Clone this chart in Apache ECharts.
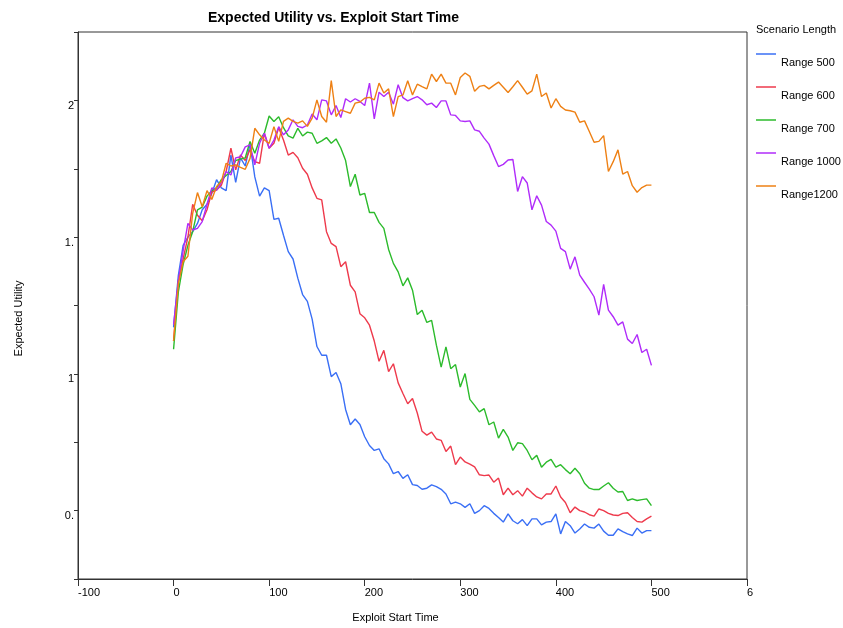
<!DOCTYPE html>
<html>
<head>
<meta charset="utf-8">
<script src="https://cdn.jsdelivr.net/npm/echarts@6/dist/echarts.min.js"></script>
<style>html,body{margin:0;padding:0;background:#fff;}#c{width:843px;height:628px;}</style>
</head>
<body>
<div id="c"></div>
<script>
var times = [0,5,10,15,20,25,30,35,40,45,50,55,60,65,70,75,80,85,90,95,
  100,105,110,115,120,125,130,135,140,145,150,155,160,165,170,175,180,185,190,195,
  200,205,210,215,220,225,230,235,240,245,250,255,260,265,270,275,280,285,290,295,
  300,305,310,315,320,325,330,335,340,345,350,355,360,365,370,375,380,385,390,395,
  400,405,410,415,420,425,430,435,440,445,450,455,460,465,470,475,480,485,490,495,500];

var range500 = [1.17,1.36,1.47,1.50,1.52,1.55,1.60,1.62,1.66,1.71,
  1.68,1.67,1.80,1.70,1.79,1.76,1.84,1.72,1.65,1.68,
  1.67,1.565,1.569,1.507,1.447,1.42,1.35,1.29,1.265,1.20,
  1.10,1.068,1.068,0.99,1.005,0.964,0.87,0.814,0.835,0.815,
  0.77,0.738,0.72,0.726,0.69,0.671,0.635,0.643,0.618,0.631,
  0.595,0.592,0.578,0.582,0.594,0.588,0.578,0.561,0.525,0.531,
  0.525,0.512,0.525,0.49,0.50,0.518,0.508,0.49,0.475,0.458,
  0.488,0.463,0.452,0.467,0.445,0.47,0.47,0.448,0.458,0.46,
  0.488,0.415,0.46,0.445,0.418,0.433,0.451,0.439,0.436,0.451,
  0.425,0.41,0.41,0.433,0.423,0.415,0.409,0.436,0.418,0.427,
  0.427];

var range600 = [1.12,1.34,1.42,1.50,1.62,1.58,1.56,1.60,1.665,1.672,
  1.69,1.74,1.825,1.746,1.80,1.78,1.82,1.776,1.77,1.88,
  1.825,1.843,1.90,1.855,1.80,1.81,1.79,1.752,1.73,1.68,
  1.642,1.636,1.52,1.477,1.465,1.392,1.41,1.324,1.30,1.22,
  1.205,1.178,1.12,1.046,1.086,1.008,1.037,0.967,0.928,0.891,
  0.91,0.857,0.79,0.776,0.787,0.762,0.757,0.716,0.736,0.668,
  0.696,0.678,0.67,0.66,0.631,0.628,0.63,0.604,0.619,0.558,
  0.582,0.558,0.573,0.553,0.582,0.565,0.55,0.543,0.561,0.561,
  0.59,0.55,0.53,0.492,0.513,0.50,0.495,0.485,0.48,0.506,
  0.50,0.49,0.484,0.482,0.49,0.492,0.475,0.46,0.458,0.47,
  0.48];

var range700 = [1.09,1.30,1.40,1.47,1.52,1.60,1.61,1.65,1.67,1.68,
  1.71,1.725,1.74,1.78,1.785,1.79,1.85,1.807,1.855,1.88,
  1.943,1.923,1.94,1.90,1.87,1.862,1.898,1.87,1.884,1.88,
  1.843,1.852,1.864,1.843,1.859,1.826,1.78,1.685,1.73,1.654,
  1.66,1.59,1.59,1.554,1.532,1.455,1.404,1.373,1.322,1.351,
  1.306,1.217,1.233,1.188,1.196,1.105,1.025,1.099,1.019,1.034,
  0.952,1.001,0.907,0.885,0.861,0.873,0.814,0.824,0.765,0.797,
  0.769,0.72,0.748,0.745,0.72,0.686,0.702,0.659,0.677,0.687,
  0.659,0.668,0.65,0.635,0.655,0.635,0.60,0.582,0.577,0.577,
  0.59,0.602,0.582,0.568,0.57,0.537,0.543,0.537,0.54,0.543,
  0.518];

var range1000 = [1.18,1.34,1.45,1.55,1.526,1.532,1.557,1.62,1.68,1.672,
  1.70,1.74,1.727,1.79,1.794,1.83,1.837,1.764,1.843,1.88,
  1.825,1.855,1.904,1.874,1.892,1.929,1.905,1.90,1.91,1.95,
  1.929,2.002,1.998,1.947,1.981,1.937,2.006,1.994,2.006,1.996,
  1.981,2.063,1.932,2.03,2.014,2.03,1.986,2.057,2.01,1.998,
  2.006,2.014,2.002,1.984,1.99,1.974,1.998,1.998,1.947,1.945,
  1.925,1.923,1.925,1.892,1.887,1.862,1.84,1.798,1.758,1.766,
  1.782,1.784,1.667,1.721,1.698,1.60,1.651,1.617,1.557,1.544,
  1.522,1.459,1.447,1.383,1.428,1.361,1.335,1.31,1.282,1.215,
  1.327,1.233,1.209,1.178,1.19,1.127,1.111,1.144,1.078,1.09,
  1.031];

var range1200 = [1.12,1.33,1.41,1.43,1.587,1.663,1.611,1.67,1.638,1.685,
  1.703,1.77,1.76,1.764,1.755,1.748,1.788,1.898,1.874,1.855,
  1.843,1.904,1.85,1.923,1.935,1.923,1.917,1.925,1.905,1.935,
  2.002,1.941,1.92,2.072,1.941,1.965,1.959,1.953,1.99,1.994,
  2.008,2.011,2.002,2.063,2.027,2.042,1.941,2.014,2.02,2.072,
  2.02,2.059,2.05,2.042,2.096,2.069,2.096,2.063,2.063,2.02,
  2.084,2.1,2.088,2.033,2.051,2.055,2.042,2.055,2.067,2.048,
  2.029,2.05,2.072,2.048,2.023,2.035,2.096,2.014,2.027,1.972,
  2.006,1.978,1.965,1.962,1.957,1.92,1.925,1.886,1.847,1.85,
  1.871,1.74,1.776,1.819,1.73,1.74,1.688,1.664,1.681,1.69,
  1.69];

var seriesNames = ['Range 500','Range 600','Range 700','Range 1000','Range1200'];
var seriesColors = ['#3a6ff5','#ee3a4c','#2cbb2c','#b02cfa','#ee8014'];
var seriesValues = [range500, range600, range700, range1000, range1200];

var xTickValues = [-100,0,100,200,300,400,500,600];
var xTickLabels = ['-100','0','100','200','300','400','500','6'];
var yTickValues = [0.5,1,1.5,2];
var yTickLabels = ['0.','1','1.','2'];

var FONT = 'Liberation Sans, Arial, Helvetica, sans-serif';

function pairs(vals){
  var out = [];
  for (var i = 0; i < times.length; i++) out.push([times[i], vals[i]]);
  return out;
}

var series = seriesNames.map(function(n, i){
  return {
    name: n, type: 'line', data: pairs(seriesValues[i]),
    showSymbol: false, symbol: 'none', smooth: false,
    lineStyle: {color: seriesColors[i], width: 1.4},
    itemStyle: {color: seriesColors[i]},
    animation: false
  };
});

var chart = echarts.init(document.getElementById('c'), null, {renderer: 'canvas'});
chart.setOption({
  backgroundColor: '#fff',
  animation: false,
  title: [
    {text: 'Expected Utility vs. Exploit Start Time', left: 203, top: 6,
     textStyle: {fontFamily: FONT, fontSize: 14, fontWeight: 'bold', color: '#000'}},
    {text: 'Scenario Length', left: 751, top: 19.5,
     textStyle: {fontFamily: FONT, fontSize: 11, fontWeight: 'normal', color: '#000'}}
  ],
  legend: {
    orient: 'vertical', left: 751, top: 34.5,
    icon: 'rect', itemWidth: 20, itemHeight: 1.5, itemGap: 4,
    data: seriesNames,
    formatter: function(n){ return '{t|' + n + '}'; },
    textStyle: {fontFamily: FONT, fontSize: 11, color: '#000',
      rich: {t: {fontFamily: FONT, fontSize: 11, color: '#000', lineHeight: 13, padding: [18,0,0,0]}}}
  },
  grid: {left: 78, right: 96, top: 32, bottom: 48, show: true, borderColor: '#333', borderWidth: 1, containLabel: false},
  xAxis: {
    type: 'value', min: -100, max: 600, interval: 100,
    name: 'Exploit Start Time', nameLocation: 'middle', nameGap: 33,
    nameTextStyle: {fontFamily: FONT, fontSize: 11, color: '#000', padding: [0,34,0,0]},
    axisLine: {show: true, onZero: false, lineStyle: {color: '#333', width: 1}},
    axisTick: {show: true, length: 7, inside: false, lineStyle: {color: '#333'}},
    splitLine: {show: false},
    axisLabel: {fontFamily: FONT, fontSize: 11, color: '#000', align: 'left', margin: 8,
      formatter: function(v){ var k = xTickValues.indexOf(v); return k >= 0 ? xTickLabels[k] : ''; }}
  },
  yAxis: {
    type: 'value', min: 0.25, max: 2.25, interval: 0.25,
    name: 'Expected Utility', nameLocation: 'middle', nameGap: 54, nameRotate: 90,
    nameTextStyle: {fontFamily: FONT, fontSize: 11, color: '#000', padding: [0,26,0,0]},
    axisLine: {show: true, onZero: false, lineStyle: {color: '#333', width: 1}},
    axisTick: {show: true, length: 4, lineStyle: {color: '#333'}},
    splitLine: {show: false},
    axisLabel: {fontFamily: FONT, fontSize: 11, color: '#000', verticalAlign: 'top', margin: 4,
      formatter: function(v){
        for (var k = 0; k < yTickValues.length; k++) if (Math.abs(yTickValues[k]-v) < 1e-6) return yTickLabels[k];
        return '';
      }}
  },
  series: series
});
</script>
</body>
</html>
